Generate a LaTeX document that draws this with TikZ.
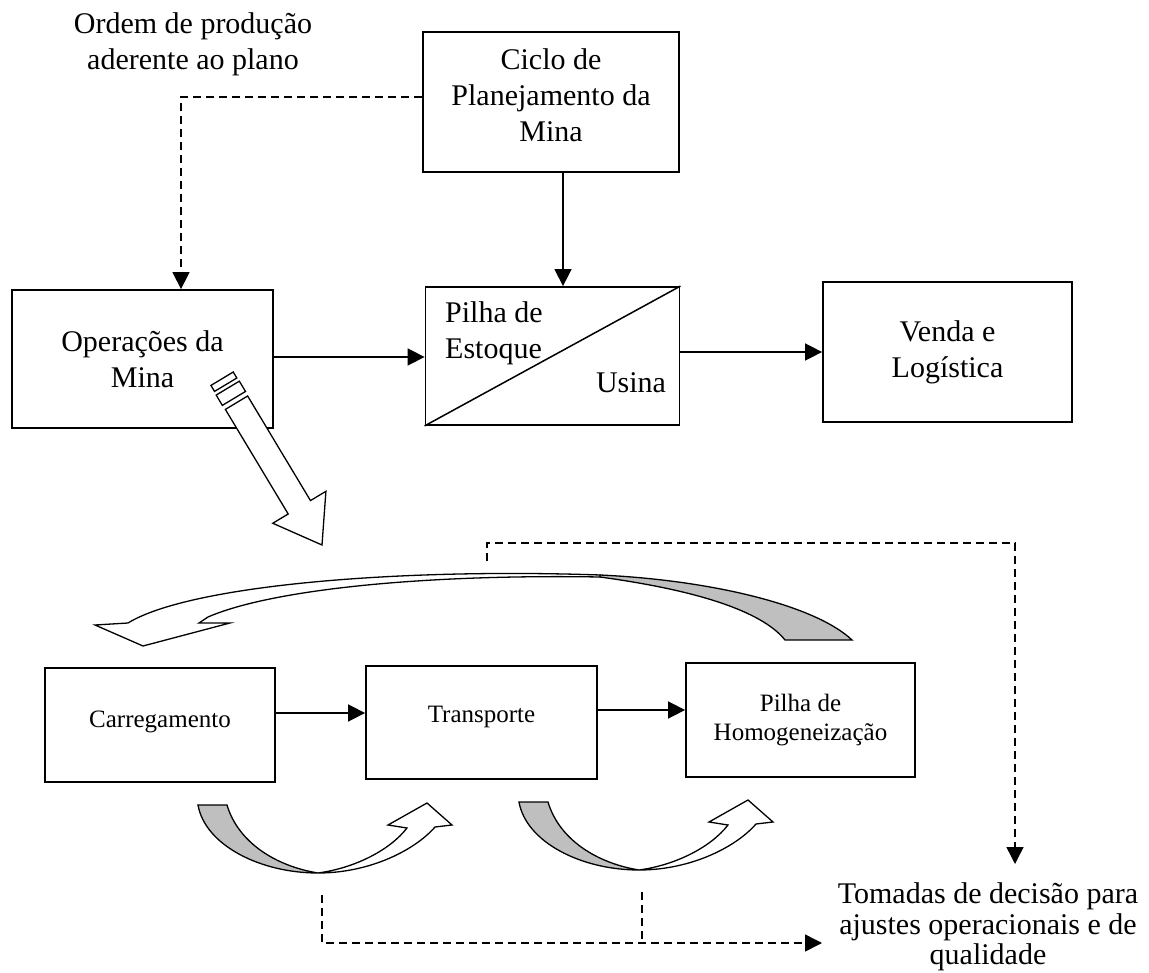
\documentclass[tikz,border=0pt]{standalone}
\usepackage{fontspec}
\setmainfont{Liberation Serif}
\usetikzlibrary{arrows.meta,calc}
\newcommand\fbig{\fontsize{30}{36}\selectfont}
\newcommand\fsmall{\fontsize{25}{29}\selectfont}
\begin{document}
\begin{tikzpicture}[x=1pt,y=-1pt,
  box/.style={draw,line width=1.8pt,inner sep=0pt,align=center,font=\fbig},
  sbox/.style={draw,line width=1.8pt,inner sep=0pt,align=center,font=\fsmall},
  lbl/.style={inner sep=0pt,align=center,font=\fbig},
  arr/.style={line width=1.6pt,-{Triangle[length=17pt,width=17pt]}},
  darr/.style={line width=1.5pt,dash pattern=on 8pt off 5pt,-{Triangle[length=17pt,width=17pt]}},
  dline/.style={line width=1.5pt,dash pattern=on 8pt off 5pt},
  shapeline/.style={line width=1.3pt,line join=miter},
  hollow/.style={shapeline,fill=white},
  twist/.style={shapeline,fill=gray!50}]
\useasboundingbox (0,0) rectangle (1149,973);

% top labels and boxes
\node[lbl] (ordem) at (193,44) {Ordem de produção\\aderente ao plano};
\node[box,minimum width=256pt,minimum height=140pt] (ciclo) at (551,102) {};
\node[lbl] (ciclotxt) at (551,95) {Ciclo de\\Planejamento da\\Mina};
\node[box,minimum width=261pt,minimum height=138pt] (oper) at (142.5,359) {Operações da\\Mina};
\node[draw,line width=1.8pt,inner sep=0pt,minimum width=254pt,minimum height=138pt] (pilha) at (552.5,356) {};
\draw[line width=1.5pt] (pilha.south west) -- (pilha.north east);
\node[lbl,align=left,anchor=west] (estoque) at (445,333) {Pilha de\\Estoque};
\node[lbl,anchor=base] (usina) at (631,393) {Usina};
\node[box,minimum width=249pt,minimum height=140pt] (venda) at (947.5,352) {Venda e\\Logística};

% connectors top
\coordinate (cx) at (563,0);
\draw[arr] (ciclo.south -| cx) -- (pilha.north -| cx);
\coordinate (o1) at (272,357);
\draw[arr] (oper.east |- o1) -- (pilha.west |- o1);
\coordinate (o2) at (700,352);
\draw[arr] (pilha.east |- o2) -- (venda.west |- o2);
\coordinate (d0) at (423,97);
\coordinate (d1) at (181,97);
\draw[darr] (ciclo.west |- d0) -- (d1) -- (d1 |- oper.north);

% hollow arrow out of Operacoes
\begin{scope}[shift={(322,545)},rotate=-59]
  \draw[hollow] (0,0) -- (-44,31) -- (-44,13) -- (-166,13) -- (-166,-13) -- (-44,-13) -- (-44,-31) -- cycle;
  \draw[hollow] (-171,-13.5) rectangle (-183,13.5);
  \draw[hollow] (-187,-13) rectangle (-194,13);
\end{scope}

% big twisted arrow
\draw[twist] (600,575) .. controls (710,580) and (815,605) .. (852,640) -- (785,640)
   .. controls (765,615) and (710,592) .. (600,577) -- cycle;
\draw[hollow] (600,575) .. controls (400,568) and (190,585) .. (128,623) -- (95,625) -- (143,646)
   -- (230,623) -- (199,623) -- (208,617) .. controls (270,590) and (420,574) .. (600,577) -- cycle;

% bottom boxes
\node[sbox,minimum width=230pt,minimum height=114pt,text height=17pt,text depth=13pt] (carr) at (160,725) {Carregamento};
\node[sbox,minimum width=231pt,minimum height=113pt,text height=17pt,text depth=17pt] (transp) at (481.5,722.5) {Transporte};
\node[sbox,minimum width=229pt,minimum height=114pt] (homog) at (800.5,720) {Pilha de\\Homogeneização};
\coordinate (b1) at (300,713);
\draw[arr] (carr.east |- b1) -- (transp.west |- b1);
\coordinate (b2) at (600,710);
\draw[arr] (transp.east |- b2) -- (homog.west |- b2);

% U-shaped twisted arrows
\foreach \dx/\dy in {0/0, 321/-3}{
\begin{scope}[shift={(\dx,\dy)}]
  \draw[twist] (198,805) -- (227,805) .. controls (238,842) and (275,866) .. (318,873)
     .. controls (260,873) and (205,845) .. (198,805) -- cycle;
  \draw[hollow] (318,873) .. controls (370,873) and (415,850) .. (435,827) -- (452,825) -- (427,803)
     -- (388,825) -- (407,828) .. controls (390,850) and (355,868) .. (318,873) -- cycle;
\end{scope}}

% decision text and dashed feedback
\node[lbl,font=\fontsize{30}{30.5}\selectfont] (tomadas) at (988,927) {Tomadas de decisão para\\ajustes operacionais e de\\qualidade};
\coordinate (t0) at (487,561);
\coordinate (t1) at (487,543);
\coordinate (t2) at (1015,543);
\coordinate (t3) at (1015,864);
\draw[darr] (t0) -- (t1) -- (t2) -- (t3);
\coordinate (u0) at (322,895);
\coordinate (u1) at (322,943);
\coordinate (u2) at (822,943);
\coordinate (v0) at (642,892);
\coordinate (v1) at (642,943);
\draw[darr] (u0) -- (u1) -- (u2);
\draw[dline] (v0) -- (v1);
\end{tikzpicture}
\end{document}
